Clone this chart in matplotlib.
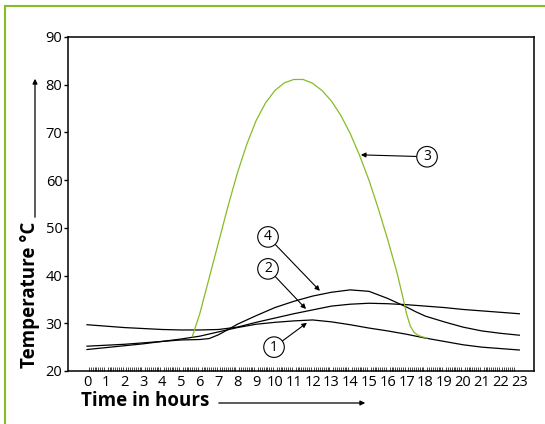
import matplotlib
matplotlib.use("Agg")
import matplotlib.pyplot as plt
from matplotlib.patches import Rectangle, FancyArrowPatch

plt.rcParams['font.family'] = ['Open Sans', 'DejaVu Sans']

# curve values (hour, deg C)
hours = list(range(24))
curve1 = [24.5, 24.9, 25.3, 25.7, 26.2, 26.7, 27.3, 28.2, 29.1, 29.8, 30.2, 30.5,
          30.7, 30.3, 29.7, 29.0, 28.4, 27.7, 26.9, 26.2, 25.5, 25.0, 24.7, 24.4]
curve2 = [29.7, 29.4, 29.1, 28.9, 28.7, 28.6, 28.6, 28.7, 29.2, 30.2, 31.1, 32.0,
          32.8, 33.6, 34.0, 34.2, 34.1, 33.9, 33.6, 33.3, 32.9, 32.6, 32.3, 32.0]
curve4_h = [0, 1, 2, 3, 4, 5, 6, 6.5, 7, 7.6, 8, 9, 10, 11, 12, 13, 14, 15, 16,
            16.5, 17, 17.5, 18, 19, 20, 21, 22, 23]
curve4 = [25.2, 25.4, 25.6, 25.9, 26.2, 26.5, 26.6, 26.8, 27.6, 28.9, 29.8, 31.6,
          33.3, 34.6, 35.7, 36.5, 37.0, 36.7, 35.2, 34.3, 33.4, 32.4, 31.5, 30.3,
          29.2, 28.4, 27.9, 27.5]
curve3_h = [5.6, 5.75, 6.0, 6.5, 7.0, 7.5, 8.0, 8.5, 9.0, 9.5, 10.0, 10.5, 11.0,
            11.5, 12.0, 12.5, 13.0, 13.5, 14.0, 14.5, 15.0, 15.5, 16.0, 16.5,
            16.8, 17.0, 17.2, 17.4, 17.6, 17.8, 18.1]
curve3 = [27.2, 29.0, 32.0, 39.5, 47.0, 54.5, 61.5, 67.5, 72.5, 76.2, 78.8, 80.4,
          81.1, 81.1, 80.3, 78.8, 76.6, 73.6, 69.8, 65.2, 60.0, 54.0, 47.5, 40.5,
          35.5, 32.0, 29.4, 28.1, 27.5, 27.2, 26.9]

yticks = [20, 30, 40, 50, 60, 70, 80, 90]

green = '#86bc25'

fig = plt.figure(figsize=(5.45, 4.24), dpi=100)
ax = fig.add_axes([68/545, 1 - 371/424, (534-68)/545, (371-37)/424])

ax.plot(hours, curve1, color='black', lw=0.9)
ax.plot(hours, curve2, color='black', lw=0.9)
ax.plot(curve4_h, curve4, color='black', lw=0.9)
ax.plot(curve3_h, curve3, color=green, lw=0.9)

ax.set_xlim(-1.01, 23.78)
ax.set_ylim(20, 90)
ax.set_yticks(yticks)
ax.set_xticks(hours)
ax.set_xticks([i / 10 for i in range(0, 228)], minor=True)
ax.tick_params(axis='x', which='major', length=0, pad=3, labelsize=10.5)
ax.tick_params(axis='x', which='minor', direction='in', length=3, width=0.5)
ax.tick_params(axis='y', length=3, width=1, pad=1, labelsize=10.5)
for s in ax.spines.values():
    s.set_linewidth(1.1)

# numbered markers
marks = [('1', (11.7, 30.1), (9.95, 25.0)),
         ('2', (11.65, 33.0), (9.63, 41.4)),
         ('3', (14.57, 65.3), (18.09, 64.9)),
         ('4', (12.39, 36.8), (9.63, 48.1))]
for lab, tip, pos in marks:
    ax.annotate(lab, xy=tip, xytext=pos, ha='center', va='center', fontsize=10,
                bbox=dict(boxstyle='circle,pad=0.2', fc='white', ec='black', lw=0.8),
                arrowprops=dict(arrowstyle='-|>', color='black', lw=0.8,
                                mutation_scale=7, shrinkA=0, shrinkB=0))

# axis titles with arrows
fig.text(30/545, 1 - 295/424, 'Temperature °C', rotation=90, ha='center', va='center',
         fontsize=13.5, fontweight='bold')
fig.add_artist(FancyArrowPatch(
    (35/545, 1 - 220/424), (35/545, 1 - 76/424), transform=fig.transFigure,
    arrowstyle='-|>', mutation_scale=7, lw=0.9, color='black'))
fig.text(81/545, 1 - 401/424, 'Time in hours', ha='left', va='center',
         fontsize=13.5, fontweight='bold')
fig.add_artist(FancyArrowPatch(
    (216/545, 1 - 403/424), (368/545, 1 - 403/424), transform=fig.transFigure,
    arrowstyle='-|>', mutation_scale=7, lw=0.9, color='black'))

# green frame
fig.add_artist(Rectangle((5/545, -0.1), 1.2, (424 - 6)/424 + 0.1,
                         transform=fig.transFigure, fill=False, ec=green, lw=1.5))

fig.savefig('out.png', dpi=100)
